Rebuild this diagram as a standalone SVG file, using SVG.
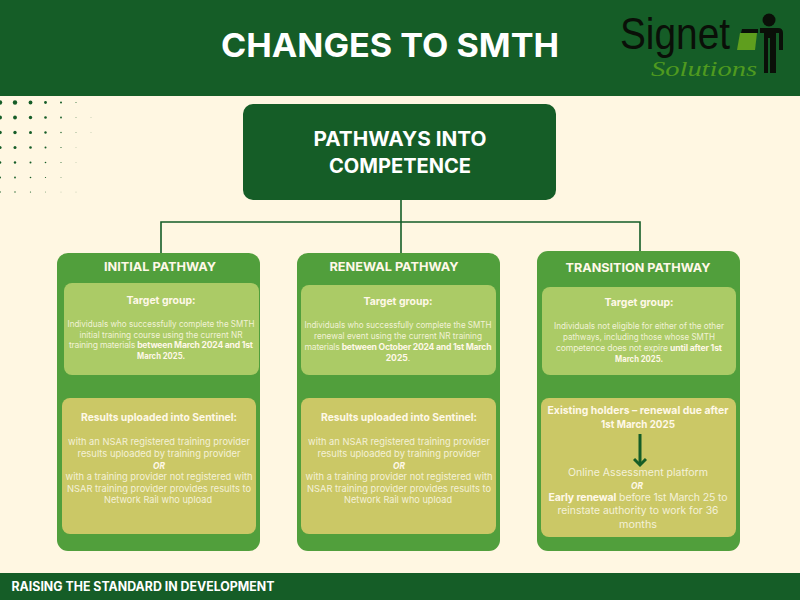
<svg xmlns="http://www.w3.org/2000/svg" width="800" height="600" viewBox="0 0 800 600">
<style>
text{font-family:"Inter","Liberation Sans",sans-serif;text-anchor:middle;fill:#fff8e8}
.h{font-weight:700;font-size:12.4px}
.b{font-weight:400;font-size:8.6px;fill:#f1f2d6}
.t{font-weight:700;font-size:10.6px}
.r{font-weight:400;font-size:9.4px;fill:#f4f1d8}
.l{font-size:10.5px}
.s{font-weight:700;fill:#fff8e8}
.card{fill:#519f3c}
.a{fill:#abcb66}
.c{fill:#cbc866}
.dot{fill:#155d27}
text.white{fill:#fff}
text.sig{font-family:"Liberation Sans",sans-serif;fill:#0a0f08}
text.sol{font-family:"Liberation Serif",serif;fill:#4f9a1f}
</style>
<defs>
<marker id="ah" viewBox="0 0 12 14" refX="9" refY="7" markerWidth="12" markerHeight="14" markerUnits="userSpaceOnUse" orient="auto"><path d="M3 1L9 7L3 13" fill="none" stroke="#155d27" stroke-width="3"/></marker>
</defs>
<rect width="800" height="600" fill="#fff7e2"/>
<g id="header">
<rect width="800" height="96" fill="#155d27"/>
<text x="390" y="56.500" font-size="33" font-weight="700" class="white" textLength="338" lengthAdjust="spacingAndGlyphs">CHANGES TO SMTH</text>
</g>
<g id="dots-decor" class="dot">
<circle cx="0" cy="102.500" r="2.200"/><circle cx="15" cy="102.500" r="2.200"/><circle cx="30.500" cy="102.500" r="1.900"/><circle cx="45.500" cy="102.500" r="1.400"/><circle cx="61" cy="102.500" r="1"/><circle cx="76" cy="102.500" r=".5"/>
<circle cx="0" cy="117.500" r="2"/><circle cx="15" cy="117.500" r="1.900"/><circle cx="30.500" cy="117.500" r="1.700"/><circle cx="45.500" cy="117.500" r="1.300"/><circle cx="61" cy="117.500" r=".9"/><circle cx="76" cy="117.500" r=".4"/><circle cx="91" cy="117.500" r=".3"/>
<circle cx="0" cy="132.500" r="1.800"/><circle cx="15" cy="132.500" r="1.700"/><circle cx="30.500" cy="132.500" r="1.500"/><circle cx="45.500" cy="132.500" r="1.200"/><circle cx="61" cy="132.500" r=".7"/><circle cx="76" cy="132.500" r=".4"/><circle cx="91" cy="132.500" r=".3"/>
<circle cx="0" cy="147.500" r="1.600"/><circle cx="15" cy="147.500" r="1.500"/><circle cx="30.500" cy="147.500" r="1.300"/><circle cx="45.500" cy="147.500" r="1"/><circle cx="61" cy="147.500" r=".6"/><circle cx="76" cy="147.500" r=".3"/>
<circle cx="0" cy="162.500" r="1.300"/><circle cx="15" cy="162.500" r="1.200"/><circle cx="30.500" cy="162.500" r="1"/><circle cx="45.500" cy="162.500" r=".8"/><circle cx="61" cy="162.500" r=".5"/><circle cx="76" cy="162.500" r=".3"/>
<circle cx="0" cy="177.500" r="1"/><circle cx="15" cy="177.500" r=".9"/><circle cx="30.500" cy="177.500" r=".8"/><circle cx="45.500" cy="177.500" r=".6"/><circle cx="61" cy="177.500" r=".4"/>
<circle cx="0" cy="192" r=".8"/><circle cx="15" cy="192" r=".7"/><circle cx="30.500" cy="192" r=".6"/><circle cx="45.500" cy="192" r=".4"/><circle cx="61" cy="192" r=".3"/><circle cx="76" cy="192" r=".3"/>
</g>
<g id="logo">
<text x="675" y="49" font-size="44" class="sig" textLength="110" lengthAdjust="spacingAndGlyphs">Signet</text>
<text x="704" y="76" font-size="20" font-style="italic" class="sol" textLength="106" lengthAdjust="spacingAndGlyphs">Solutions</text>
<path d="M740 33H757L755 50H737Z" fill="#5f9e1e"/>
<path d="M742 29H758V33H741Z" fill="#0a0f08"/>
<circle cx="769" cy="20" r="6.500" fill="#0a0f08"/>
<path d="M760 28H778Q783 28 783 33V50H779V33H776V73H770V38H768V73H764V33H760Z" fill="#0a0f08"/>
</g>
<g id="root">
<rect x="243" y="104" width="313" height="96" rx="10" fill="#155d27"/>
<text x="400" y="146" font-size="19.500" font-weight="700" class="white" textLength="173" lengthAdjust="spacingAndGlyphs">PATHWAYS INTO</text>
<text x="400" y="173" font-size="19.500" font-weight="700" class="white" textLength="142" lengthAdjust="spacingAndGlyphs">COMPETENCE</text>
</g>
<g id="initial">
<rect x="57" y="253" width="203" height="298" rx="11" class="card"/>
<text x="160" y="271" class="h" textLength="112" lengthAdjust="spacingAndGlyphs">INITIAL PATHWAY</text>
<rect x="64" y="283" width="195" height="92" rx="8" class="a"/>
<text x="161" y="304" class="t" textLength="69" lengthAdjust="spacingAndGlyphs">Target group:</text>
<text x="161" y="327" class="b" textLength="187" lengthAdjust="spacingAndGlyphs">Individuals who successfully complete the SMTH</text>
<text x="161" y="338" class="b" textLength="163" lengthAdjust="spacingAndGlyphs">initial training course using the current NR</text>
<text x="161" y="348" class="b" textLength="184" lengthAdjust="spacing">training materials <tspan class="s">between March 2024 and 1st</tspan></text>
<text x="161" y="359" class="b s" textLength="48" lengthAdjust="spacingAndGlyphs">March 2025.</text>
<rect x="62" y="398" width="194" height="136" rx="8" class="c"/>
<text x="159" y="421" class="t" textLength="156" lengthAdjust="spacingAndGlyphs">Results uploaded into Sentinel:</text>
<text x="159" y="445" class="r" textLength="182" lengthAdjust="spacingAndGlyphs">with an NSAR registered training provider</text>
<text x="159" y="457" class="r" textLength="163" lengthAdjust="spacingAndGlyphs">results uploaded by training provider</text>
<text x="159" y="469" class="r s" font-style="italic" textLength="12" lengthAdjust="spacingAndGlyphs">OR</text>
<text x="159" y="480" class="r" textLength="187" lengthAdjust="spacingAndGlyphs">with a training provider not registered with</text>
<text x="159" y="492" class="r" textLength="184" lengthAdjust="spacingAndGlyphs">NSAR  training provider provides results to</text>
<text x="158" y="503" class="r" textLength="108" lengthAdjust="spacingAndGlyphs">Network Rail who upload</text>
</g>
<g id="renewal">
<rect x="297" y="253" width="203" height="298" rx="11" class="card"/>
<text x="394" y="271" class="h" textLength="129" lengthAdjust="spacingAndGlyphs">RENEWAL PATHWAY</text>
<rect x="301" y="285" width="195" height="90" rx="8" class="a"/>
<text x="398" y="305" class="t" textLength="69" lengthAdjust="spacingAndGlyphs">Target group:</text>
<text x="398" y="328" class="b" textLength="187" lengthAdjust="spacingAndGlyphs">Individuals who successfully complete the SMTH</text>
<text x="398" y="339" class="b" textLength="168" lengthAdjust="spacingAndGlyphs">renewal event using the current NR training</text>
<text x="398" y="350" class="b" textLength="187" lengthAdjust="spacing">materials <tspan class="s">between October 2024 and 1st March</tspan></text>
<text x="398" y="361" class="b"><tspan class="s">2025</tspan>.</text>
<rect x="301" y="398" width="195" height="136" rx="8" class="c"/>
<text x="399" y="421" class="t" textLength="156" lengthAdjust="spacingAndGlyphs">Results uploaded into Sentinel:</text>
<text x="399" y="445" class="r" textLength="182" lengthAdjust="spacingAndGlyphs">with an NSAR registered training provider</text>
<text x="399" y="457" class="r" textLength="163" lengthAdjust="spacingAndGlyphs">results uploaded by training provider</text>
<text x="399" y="469" class="r s" font-style="italic" textLength="12" lengthAdjust="spacingAndGlyphs">OR</text>
<text x="399" y="480" class="r" textLength="187" lengthAdjust="spacingAndGlyphs">with a training provider not registered with</text>
<text x="399" y="492" class="r" textLength="184" lengthAdjust="spacingAndGlyphs">NSAR  training provider provides results to</text>
<text x="398" y="503" class="r" textLength="108" lengthAdjust="spacingAndGlyphs">Network Rail who upload</text>
</g>
<g id="transition">
<rect x="537" y="251" width="203" height="300" rx="11" class="card"/>
<text x="638" y="272" class="h" textLength="145" lengthAdjust="spacingAndGlyphs">TRANSITION PATHWAY</text>
<rect x="542" y="287" width="194" height="88" rx="8" class="a"/>
<text x="639" y="306" class="t" textLength="69" lengthAdjust="spacingAndGlyphs">Target group:</text>
<text x="639" y="329" class="b" textLength="170" lengthAdjust="spacingAndGlyphs">Individuals not eligible for either of the other</text>
<text x="639" y="340" class="b" textLength="152" lengthAdjust="spacingAndGlyphs">pathways, including those whose SMTH</text>
<text x="639" y="351" class="b" textLength="166" lengthAdjust="spacing">competence does not expire <tspan class="s">until after 1st</tspan></text>
<text x="639" y="362" class="b s" textLength="48" lengthAdjust="spacingAndGlyphs">March 2025.</text>
<rect x="541" y="398" width="195" height="139" rx="8" class="c"/>
<text x="638" y="414" class="t" textLength="181" lengthAdjust="spacingAndGlyphs">Existing holders – renewal due after</text>
<text x="638" y="428" class="t" textLength="74" lengthAdjust="spacingAndGlyphs">1st March 2025</text>
<text x="638" y="476" class="r l" textLength="140" lengthAdjust="spacingAndGlyphs">Online Assessment platform</text>
<text x="637" y="489" class="r s" font-style="italic" textLength="12" lengthAdjust="spacingAndGlyphs">OR</text>
<text x="638" y="501" class="r l" textLength="179" lengthAdjust="spacing"><tspan class="s">Early renewal</tspan> before 1st March 25 to</text>
<text x="638" y="514" class="r l" textLength="161" lengthAdjust="spacingAndGlyphs">reinstate authority to work for 36</text>
<text x="638" y="528" class="r l" textLength="38" lengthAdjust="spacingAndGlyphs">months</text>
</g>
<g id="connectors" fill="none" stroke="#155d27" stroke-width="1.600">
<path d="M401 200V253"/>
<path d="M161 253V222H640V251"/>
<path d="M640 434V465" stroke-width="3" marker-end="url(#ah)"/>
</g>
<g id="footer">
<rect y="573" width="800" height="27" fill="#155d27"/>
<text x="143" y="591" font-size="12.500" font-weight="700" class="white" textLength="263" lengthAdjust="spacingAndGlyphs">RAISING THE STANDARD IN DEVELOPMENT</text>
</g>
</svg>
